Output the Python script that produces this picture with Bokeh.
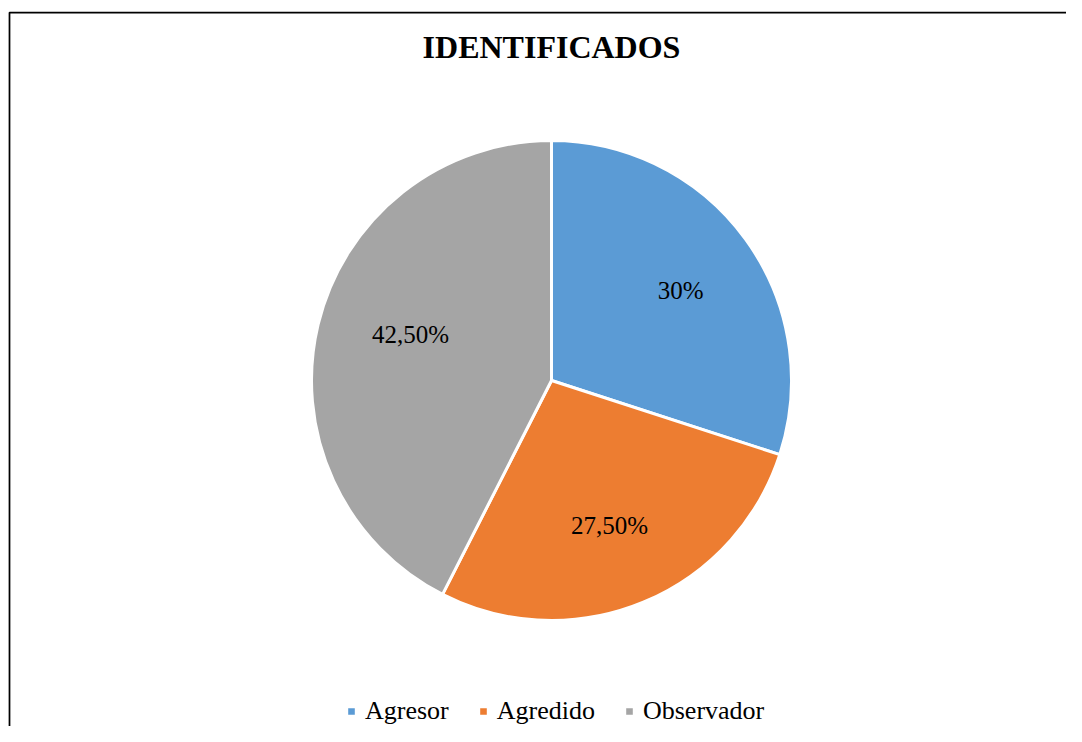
import numpy as np
from bokeh.plotting import figure
from bokeh.models import Range1d, ColumnDataSource, Legend, LegendItem
from bokeh.core.properties import value
from bokeh.embed import file_html
from bokeh.resources import INLINE

# ---- data ----
title_text = "IDENTIFICADOS"
categories = ["Agresor", "Agredido", "Observador"]
percentages = [30.0, 27.5, 42.5]
label_texts = ["30%", "27,50%", "42,50%"]
colors = ["#5B9BD5", "#ED7D31", "#A5A5A5"]

# ---- layout ----
W, H = 1066, 726
CX, CY, R = 551, -380, 240  # y measured downward as negative
label_nudge_x = [2, -2, 12]   # pixel nudges of the data labels (layout only)
label_nudge_y = [-2, 0, 9]

p = figure(width=W, height=H, output_backend="svg", toolbar_location=None,
           x_range=Range1d(0, W), y_range=Range1d(-H, 0),
           min_border=0, outline_line_color=None)
p.axis.visible = False
p.grid.visible = False
p.background_fill_color = "white"
p.border_fill_color = "white"

# frame (top and left edges, right/bottom run off the page)
p.line(x=[W, 9, 9], y=[-12, -12, -H], line_color="black", line_width=1.75)

vals = np.array(percentages) / 100.0
cum = np.concatenate([[0.0], np.cumsum(vals)])
start = np.pi / 2 - 2 * np.pi * cum[:-1]
end = np.pi / 2 - 2 * np.pi * cum[1:]
mid = (start + end) / 2

src = ColumnDataSource(dict(cat=categories, start=start, end=end, color=colors,
                            lx=CX + 0.655 * R * np.cos(mid) + np.array(label_nudge_x),
                            ly=CY + 0.655 * R * np.sin(mid) + np.array(label_nudge_y),
                            lab=label_texts))

wr = p.wedge(x=CX, y=CY, radius=R, start_angle="start", end_angle="end",
             direction="clock", fill_color="color", line_color="white",
             line_width=3, source=src)

p.text(x="lx", y="ly", text="lab", source=src, text_align="center",
       text_baseline="middle", text_font=value("Liberation Serif"),
       text_font_size="25px", text_color="black")

p.text(x=[CX], y=[-46], text=[title_text], text_align="center",
       text_baseline="middle", text_font=value("Liberation Serif"),
       text_font_size="32px", text_font_style="bold", text_color="black")

items = [LegendItem(label=c, renderers=[wr], index=i) for i, c in enumerate(categories)]
legend = Legend(items=items, orientation="horizontal", location=(345, 0),
                glyph_width=12, glyph_height=12, label_standoff=8, spacing=28,
                padding=0, margin=0, border_line_color=None,
                background_fill_alpha=0, label_text_font="Liberation Serif",
                label_text_font_size="26px", label_text_color="black")
p.add_layout(legend, "center")

open("out.html", "w").write(file_html(p, INLINE))
